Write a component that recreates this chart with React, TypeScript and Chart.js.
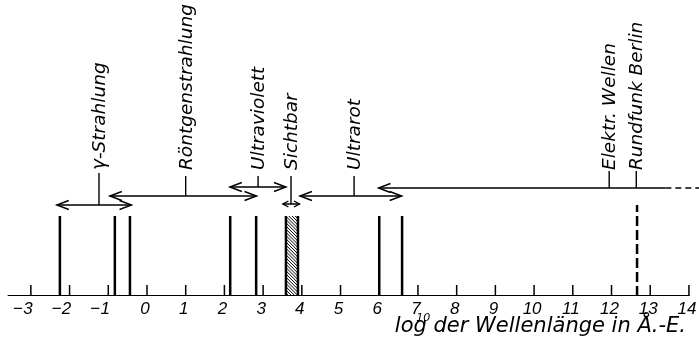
import React, { useEffect, useRef } from "react";
import { Chart, registerables } from "chart.js";

Chart.register(...registerables);

// ---- data (log10 of wavelength in Å.-E.) ----
const tickValues = [-3, -2, -1, 0, 1, 2, 3, 4, 5, 6, 7, 8, 9, 10, 11, 12, 13, 14];
const tickLabels = ["−3", "−2", "−1", "0", "1", "2", "3", "4", "5", "6", "7", "8", "9", "10", "11", "12", "13", "14"];
const axisRange = [-3.6, 14.02];
const xRange = [-3.797, 14.26];
const yRange = [0, 296];

const boundaryLines = [-2.25, -0.83, -0.44, 2.15, 2.82, 3.59, 3.9, 6.0, 6.59];
const boundaryHeight = 80;
const visibleBand = [3.59, 3.9];
const broadcastLine = 12.66;
const broadcastHeight = 91;

const rangeNames = ["γ-Strahlung", "Röntgenstrahlung", "Ultraviolett", "Sichtbar", "Ultrarot", "Elektr. Wellen"];
const rangeFrom = [-2.33, -0.96, 2.14, 3.51, 3.95, 5.98];
const rangeTo = [-0.4, 2.83, 3.59, 3.94, 6.58, 13.39];
const rangeRightHead = [true, true, true, true, true, false];
const rangeLabelAt = [-1.24, 1.0, 2.87, 3.72, 5.35, 11.94];
const rangeLevel = [91, 100, 109, 92, 100, 108];
const rangeStemTop = [123, 120, 120, 120, 120, 125];

const extraNames = ["Rundfunk Berlin"];
const extraLabelAt = [12.64];
const extraLevel = [108];
const extraStemTop = [125];

const continuation = [13.39, 14.3];
const labelBase = 125;
const tickHeight = 11;

const axisTitle = "log der Wellenlänge in Å.-E.";
const axisTitleSup = "10";

type Pt = { x: number; y: number | null };

function segs(list: number[][]): Pt[] {
  const out: Pt[] = [];
  list.forEach(([x1, y1, x2, y2]) => {
    out.push({ x: x1, y: y1 }, { x: x2, y: y2 }, { x: x2, y: null });
  });
  return out;
}

const base = {
  showLine: true,
  borderColor: "#000",
  backgroundColor: "#000",
  pointRadius: 0,
  pointHoverRadius: 0,
  spanGaps: false,
  fill: false,
};

export default function App() {
  const ref = useRef<HTMLCanvasElement | null>(null);

  useEffect(() => {
    document.body.style.margin = "0";
    const canvas = ref.current;
    if (!canvas) return;

    const datasets: any[] = [
      { ...base, data: segs([[axisRange[0], 0, axisRange[1], 0]]), borderWidth: 2 },
      { ...base, data: segs(tickValues.map((v) => [v, 0, v, tickHeight])), borderWidth: 1.5 },
      { ...base, data: segs(boundaryLines.map((v) => [v, 0, v, boundaryHeight])), borderWidth: 2.5 },
      {
        ...base,
        data: segs([[broadcastLine, 0, broadcastLine, broadcastHeight]]),
        borderWidth: 2.5,
        borderDash: [10, 4],
      },
      {
        ...base,
        data: segs(rangeNames.map((_, i) => [rangeFrom[i], rangeLevel[i], rangeTo[i], rangeLevel[i]])),
        borderWidth: 1.4,
      },
      {
        ...base,
        data: segs(rangeNames.map((_, i) => [rangeLabelAt[i], rangeLevel[i], rangeLabelAt[i], rangeStemTop[i]])),
        borderWidth: 1.4,
      },
      {
        ...base,
        data: segs(extraNames.map((_, i) => [extraLabelAt[i], extraLevel[i], extraLabelAt[i], extraStemTop[i]])),
        borderWidth: 1.4,
      },
      {
        ...base,
        data: segs([[continuation[0], rangeLevel[5], continuation[1], rangeLevel[5]]]),
        borderWidth: 1.4,
        borderDash: [6, 4],
      },
    ];

    const overlay = {
      id: "overlay",
      afterDatasetsDraw(chart: any) {
        const ctx: CanvasRenderingContext2D = chart.ctx;
        const xs = chart.scales.x;
        const ys = chart.scales.y;
        const px = (v: number) => xs.getPixelForValue(v);
        const py = (v: number) => ys.getPixelForValue(v);
        ctx.save();
        ctx.strokeStyle = "#000";
        ctx.fillStyle = "#000";

        // hatched visible band
        const bx1 = px(visibleBand[0]);
        const bx2 = px(visibleBand[1]);
        const by1 = py(boundaryHeight);
        const by2 = py(0);
        ctx.save();
        ctx.beginPath();
        ctx.rect(bx1, by1, bx2 - bx1, by2 - by1);
        ctx.clip();
        ctx.lineWidth = 1;
        ctx.beginPath();
        for (let k = -40; k < (by2 - by1) + 20; k += 3.2) {
          ctx.moveTo(bx1 - 2, by1 + k);
          ctx.lineTo(bx2 + 2, by1 + k + (bx2 - bx1) + 4);
        }
        ctx.stroke();
        ctx.restore();

        // arrow heads
        ctx.lineWidth = 1.4;
        const head = (x: number, y: number, dir: number, len: number, half: number) => {
          ctx.beginPath();
          ctx.moveTo(x - dir * len, y - half);
          ctx.lineTo(x, y);
          ctx.lineTo(x - dir * len, y + half);
          ctx.stroke();
        };
        rangeNames.forEach((_, i) => {
          const x1 = px(rangeFrom[i]);
          const x2 = px(rangeTo[i]);
          const y = py(rangeLevel[i]);
          const len = Math.min(12, (x2 - x1) / 3);
          const half = len > 8 ? 4.5 : 3;
          head(x1, y, -1, len, half);
          if (rangeRightHead[i]) head(x2, y, 1, len, half);
        });

        // rotated labels
        ctx.font = "italic 18.5px 'DejaVu Sans'";
        ctx.textAlign = "left";
        ctx.textBaseline = "alphabetic";
        const vlabel = (text: string, v: number) => {
          ctx.save();
          ctx.translate(px(v) + 6, py(labelBase) - 1);
          ctx.rotate(-Math.PI / 2);
          ctx.fillText(text, 0, 0);
          ctx.restore();
        };
        rangeNames.forEach((n, i) => vlabel(n, rangeLabelAt[i]));
        extraNames.forEach((n, i) => vlabel(n, extraLabelAt[i]));

        // tick labels
        const axisY = py(0);
        ctx.font = "italic 17px 'Liberation Sans'";
        tickLabels.forEach((lab, i) => {
          const x = px(tickValues[i]);
          if (lab.startsWith("−")) {
            const digits = lab.slice(1);
            const dc = x - 3;
            const dw = ctx.measureText(digits).width;
            ctx.textAlign = "center";
            ctx.fillText(digits, dc, axisY + 18);
            ctx.textAlign = "right";
            ctx.fillText("−", dc - dw / 2 - 0.5, axisY + 18);
          } else {
            ctx.textAlign = "center";
            ctx.fillText(lab, x - 2, axisY + 18);
          }
        });

        // axis title with superscript
        ctx.font = "italic 21px 'DejaVu Sans'";
        ctx.textAlign = "left";
        const tw = ctx.measureText(axisTitle).width;
        const tx = px(xRange[1]) - 13 - tw;
        ctx.fillText(axisTitle, tx, axisY + 36);
        const lo = ctx.measureText(axisTitle.slice(0, 2)).width;
        const g = ctx.measureText(axisTitle.slice(2, 3)).width;
        ctx.font = "italic 11px 'DejaVu Sans'";
        ctx.textAlign = "center";
        ctx.fillText(axisTitleSup, tx + lo + g / 2 + 3, axisY + 25);

        ctx.restore();
      },
    };

    const chart = new Chart(canvas, {
      type: "scatter",
      data: { datasets },
      options: {
        responsive: false,
        animation: false,
        devicePixelRatio: 1,
        layout: { padding: { left: 0, right: 0, top: 0, bottom: 44 } },
        scales: {
          x: { type: "linear", min: xRange[0], max: xRange[1], display: false },
          y: { type: "linear", min: yRange[0], max: yRange[1], display: false },
        },
        plugins: { legend: { display: false }, tooltip: { enabled: false } },
        events: [],
      },
      plugins: [overlay],
    } as any);

    return () => chart.destroy();
  }, []);

  return (
    <div style={{ width: 699, height: 340, background: "#fff" }}>
      <canvas ref={ref} width={699} height={340} style={{ display: "block", width: 699, height: 340 }} />
    </div>
  );
}
